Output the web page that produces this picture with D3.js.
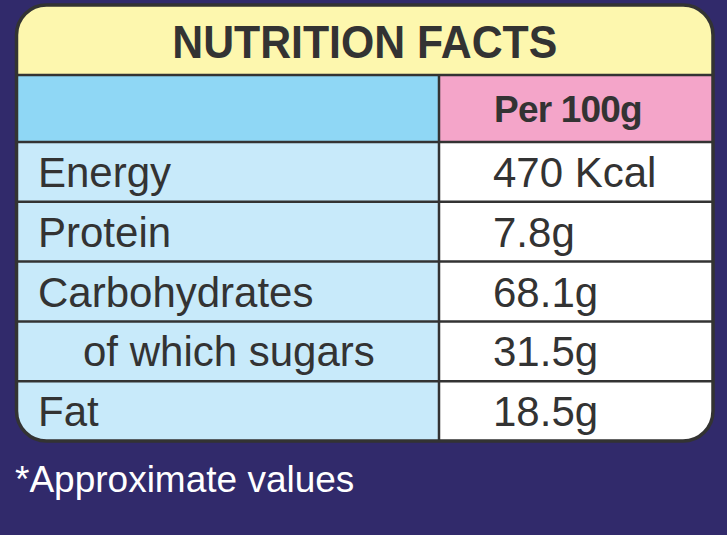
<!DOCTYPE html>
<html>
<head>
<meta charset="utf-8">
<script src="https://cdn.jsdelivr.net/npm/d3@7"></script>
<style>
    body { margin: 0; background: #312a6b; }
    svg { display: block; }
    text { font-family: "Liberation Sans", Arial, sans-serif; }
</style>
</head>
<body>
<svg id="chart" width="727" height="535"></svg>
<script>
var title = "NUTRITION FACTS";
var columnHeader = "Per 100g";
var nutrients = ["Energy", "Protein", "Carbohydrates", "of which sugars", "Fat"];
var amounts = ["470 Kcal", "7.8g", "68.1g", "31.5g", "18.5g"];
var subItem = [false, false, false, true, false];
var footnote = "*Approximate values";

var colors = {
    bg: "#312a6b",
    title: "#fdf7ae",
    header: "#8fd7f5",
    headerRight: "#f4a5c9",
    label: "#c8eafa",
    value: "#ffffff",
    ink: "#333333"
};

var svg = d3.select("#chart");

var box = {left: 16.5, right: 713, top: 5, bottom: 441, radius: 30};
var titleBottom = 75, headerBottom = 142, splitX = 439;

// one band per nutrient row
var y = d3.scaleBand()
    .domain(d3.range(nutrients.length))
    .range([headerBottom, box.bottom]);

svg.append("rect")
    .attr("width", 727).attr("height", 535)
    .attr("fill", colors.bg);

svg.append("clipPath").attr("id", "card")
    .append("rect")
    .attr("x", box.left).attr("y", box.top)
    .attr("width", box.right - box.left).attr("height", box.bottom - box.top)
    .attr("rx", box.radius);

var card = svg.append("g").attr("clip-path", "url(#card)");

card.append("rect")
    .attr("x", box.left).attr("y", box.top)
    .attr("width", box.right - box.left).attr("height", titleBottom - box.top)
    .attr("fill", colors.title);

card.append("rect")
    .attr("x", box.left).attr("y", titleBottom)
    .attr("width", splitX - box.left).attr("height", headerBottom - titleBottom)
    .attr("fill", colors.header);

card.append("rect")
    .attr("x", splitX).attr("y", titleBottom)
    .attr("width", box.right - splitX).attr("height", headerBottom - titleBottom)
    .attr("fill", colors.headerRight);

var rows = card.selectAll("g.row")
    .data(nutrients)
    .enter()
    .append("g")
    .attr("class", "row");

rows.append("rect")
    .attr("x", box.left)
    .attr("y", function(d, i){ return y(i); })
    .attr("width", splitX - box.left)
    .attr("height", y.bandwidth())
    .attr("fill", colors.label);

rows.append("rect")
    .attr("x", splitX)
    .attr("y", function(d, i){ return y(i); })
    .attr("width", box.right - splitX)
    .attr("height", y.bandwidth())
    .attr("fill", colors.value);

// grid lines
var hLines = [titleBottom, headerBottom].concat(d3.range(1, nutrients.length).map(function(i){ return y(i); }));
card.selectAll("line.h")
    .data(hLines)
    .enter()
    .append("line")
    .attr("class", "h")
    .attr("x1", box.left).attr("x2", box.right)
    .attr("y1", function(d){ return d; })
    .attr("y2", function(d){ return d; })
    .attr("stroke", colors.ink)
    .attr("stroke-width", 2.5);

card.append("line")
    .attr("x1", splitX).attr("x2", splitX)
    .attr("y1", titleBottom).attr("y2", box.bottom)
    .attr("stroke", colors.ink)
    .attr("stroke-width", 2.5);

svg.append("rect")
    .attr("x", box.left).attr("y", box.top)
    .attr("width", box.right - box.left).attr("height", box.bottom - box.top)
    .attr("rx", box.radius)
    .attr("fill", "none")
    .attr("stroke", colors.ink)
    .attr("stroke-width", 3.5);

// texts
svg.append("text")
    .attr("x", (box.left + box.right) / 2)
    .attr("y", 58)
    .attr("text-anchor", "middle")
    .attr("font-size", 46)
    .attr("font-weight", "bold")
    .attr("fill", colors.ink)
    .attr("textLength", 385)
    .attr("lengthAdjust", "spacingAndGlyphs")
    .text(title);

svg.append("text")
    .attr("x", 494)
    .attr("y", 122)
    .attr("font-size", 37)
    .attr("font-weight", "bold")
    .attr("letter-spacing", -0.8)
    .attr("fill", colors.ink)
    .text(columnHeader);

svg.selectAll("text.label")
    .data(nutrients)
    .enter()
    .append("text")
    .attr("class", "label")
    .attr("x", function(d, i){ return subItem[i] ? 83 : 38; })
    .attr("y", function(d, i){ return y(i) + y.bandwidth() / 2 + 15; })
    .attr("font-size", 42)
    .attr("fill", colors.ink)
    .text(function(d){ return d; });

svg.selectAll("text.amount")
    .data(amounts)
    .enter()
    .append("text")
    .attr("class", "amount")
    .attr("x", 493)
    .attr("y", function(d, i){ return y(i) + y.bandwidth() / 2 + 15; })
    .attr("font-size", 42)
    .attr("fill", colors.ink)
    .text(function(d){ return d; });

svg.append("text")
    .attr("x", 15)
    .attr("y", 492)
    .attr("font-size", 37)
    .attr("fill", "#ffffff")
    .text(footnote);
</script>
</body>
</html>
